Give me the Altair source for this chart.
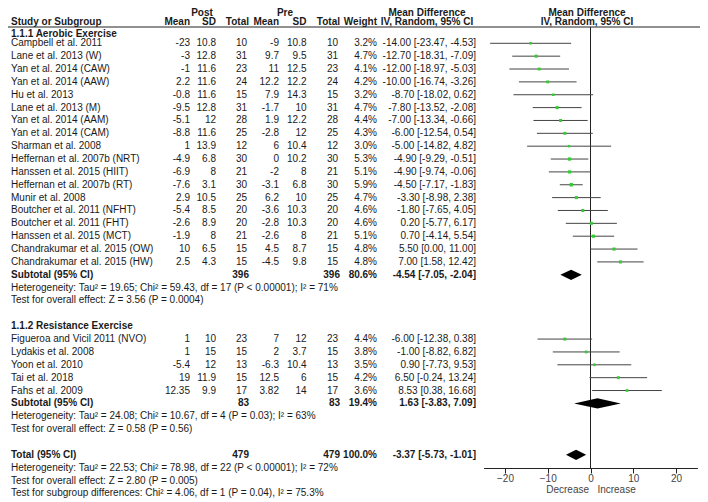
import altair as alt
import pandas as pd

# ---------------- data ----------------
studies = [
    "Campbell et al. 2011", "Lane et al. 2013 (W)", "Yan et al. 2014 (CAW)",
    "Yan et al. 2014 (AAW)", "Hu et al. 2013", "Lane et al. 2013 (M)",
    "Yan et al. 2014 (AAM)", "Yan et al. 2014 (CAM)", "Sharman et al. 2008",
    "Heffernan et al. 2007b (NRT)", "Hanssen et al. 2015 (HIIT)",
    "Heffernan et al. 2007b (RT)", "Munir et al. 2008",
    "Boutcher et al. 2011 (NFHT)", "Boutcher et al. 2011 (FHT)",
    "Hanssen et al. 2015 (MCT)", "Chandrakumar et al. 2015 (OW)",
    "Chandrakumar et al. 2015 (HW)",
    "Figueroa and Vicil 2011 (NVO)", "Lydakis et al. 2008", "Yoon et al. 2010",
    "Tai et al. 2018", "Fahs et al. 2009",
]
post_mean = [-23, -3, -1, 2.2, -0.8, -9.5, -5.1, -8.8, 1, -4.9, -6.9, -7.6, 2.9, -5.4, -2.6, -1.9, 10, 2.5,
             1, 1, -5.4, 19, 12.35]
post_sd = [10.8, 12.8, 11.6, 11.6, 11.6, 12.8, 12, 11.6, 13.9, 6.8, 8, 3.1, 10.5, 8.5, 8.9, 8, 6.5, 4.3,
           10, 15, 12, 11.9, 9.9]
post_n = [10, 31, 23, 24, 15, 31, 28, 25, 12, 30, 21, 30, 25, 20, 20, 21, 15, 15,
          23, 15, 13, 15, 17]
pre_mean = [-9, 9.7, 11, 12.2, 7.9, -1.7, 1.9, -2.8, 6, 0, -2, -3.1, 6.2, -3.6, -2.8, -2.6, 4.5, -4.5,
            7, 2, -6.3, 12.5, 3.82]
pre_sd = [10.8, 9.5, 12.5, 12.2, 14.3, 10, 12.2, 12, 10.4, 10.2, 8, 6.8, 10, 10.3, 10.3, 8, 8.7, 9.8,
          12, 3.7, 10.4, 6, 14]
pre_n = [10, 31, 23, 24, 15, 31, 28, 25, 12, 30, 21, 30, 25, 20, 20, 21, 15, 15,
         23, 15, 13, 15, 17]
weights = [3.2, 4.7, 4.1, 4.2, 3.2, 4.7, 4.4, 4.3, 3.0, 5.3, 5.1, 5.9, 4.7, 4.6, 4.6, 5.1, 4.8, 4.8,
           4.4, 3.8, 3.5, 4.2, 3.6]
md = [-14.00, -12.70, -12.00, -10.00, -8.70, -7.80, -7.00, -6.00, -5.00, -4.90, -4.90, -4.50, -3.30,
      -1.80, 0.20, 0.70, 5.50, 7.00,
      -6.00, -1.00, 0.90, 6.50, 8.53]
ci_lo = [-23.47, -18.31, -18.97, -16.74, -18.02, -13.52, -13.34, -12.54, -14.82, -9.29, -9.74, -7.17,
         -8.98, -7.65, -5.77, -4.14, 0.00, 1.58,
         -12.38, -8.82, -7.73, -0.24, 0.38]
ci_hi = [-4.53, -7.09, -5.03, -3.26, 0.62, -2.08, -0.66, 0.54, 4.82, -0.51, -0.06, -1.83, 2.38, 4.05,
         6.17, 5.54, 11.00, 12.42,
         0.38, 6.82, 9.53, 13.24, 16.68]
study_rows = list(range(18)) + [23, 24, 25, 26, 27]

summary_labels = ["Subtotal (95% CI)", "Subtotal (95% CI)", "Total (95% CI)"]
summary_rows = [18, 28, 32]
summary_post_n = [396, 83, 479]
summary_pre_n = [396, 83, 479]
summary_weight = [80.6, 19.4, 100.0]
summary_md = [-4.54, 1.63, -3.37]
summary_lo = [-7.05, -3.83, -5.73]
summary_hi = [-2.04, 7.09, -1.01]

group_labels = ["1.1.1 Aerobic Exercise", "1.1.2 Resistance Exercise"]
group_rows = [-0.75, 22]

note_texts = [
    "Heterogeneity: Tau² = 19.65; Chi² = 59.43, df = 17 (P < 0.00001); I² = 71%",
    "Test for overall effect: Z = 3.56 (P = 0.0004)",
    "Heterogeneity: Tau² = 24.08; Chi² = 10.67, df = 4 (P = 0.03); I² = 63%",
    "Test for overall effect: Z = 0.58 (P = 0.56)",
    "Heterogeneity: Tau² = 22.53; Chi² = 78.98, df = 22 (P < 0.00001); I² = 72%",
    "Test for overall effect: Z = 2.80 (P = 0.005)",
    "Test for subgroup differences: Chi² = 4.06, df = 1 (P = 0.04), I² = 75.3%",
]
note_rows = [19, 20, 29, 30, 33, 34, 35]

axis_ticks = [-20, -10, 0, 10, 20]
x_domain = [-25, 25]
axis_title = "Decrease\u00a0\u00a0\u00a0Increase"

# ---------------- layout constants ----------------
FONT = "Liberation Sans"
FS = 10
TXT = "#1a1a1a"
ROW_HEAD1 = -2.395
ROW_HEAD2 = -1.62
ROW_LINE = -1.267
ROW_AXIS = 33.03

yscale = alt.Scale(domain=[-2.745, 35.669], reverse=True, nice=False, zero=False)
xscale = alt.Scale(domain=x_domain, range=[475.6, 689.4], nice=False, zero=False)


def Y(field="row"):
    return alt.Y(f"{field}:Q", scale=yscale, axis=None)


def fmt(v):
    return f"{v:g}"


study_df = pd.DataFrame({
    "row": study_rows,
    "name": studies,
    "pm": [fmt(v) for v in post_mean],
    "ps": [fmt(v) for v in post_sd],
    "pn": [str(v) for v in post_n],
    "rm": [fmt(v) for v in pre_mean],
    "rs": [fmt(v) for v in pre_sd],
    "rn": [str(v) for v in pre_n],
    "w": [f"{v:.1f}%" for v in weights],
    "wv": weights,
    "ci": [f"{m:.2f} [{l:.2f}, {h:.2f}]" for m, l, h in zip(md, ci_lo, ci_hi)],
    "md": md, "lo": ci_lo, "hi": ci_hi,
})

sum_df = pd.DataFrame({
    "row": summary_rows,
    "name": summary_labels,
    "pn": [str(v) for v in summary_post_n],
    "rn": [str(v) for v in summary_pre_n],
    "w": [f"{v:.1f}%" for v in summary_weight],
    "ci": [f"{m:.2f} [{l:.2f}, {h:.2f}]" for m, l, h in zip(summary_md, summary_lo, summary_hi)],
})

group_df = pd.DataFrame({"row": group_rows, "name": group_labels})
note_df = pd.DataFrame({"row": note_rows, "name": note_texts})

DIAMOND_H = 0.4
dia_rows = []
for i, (r, m, l, h) in enumerate(zip(summary_rows, summary_md, summary_lo, summary_hi)):
    dia_rows.append({"id": i, "x": l, "y": r, "y2": r})
    dia_rows.append({"id": i, "x": m, "y": r - DIAMOND_H, "y2": r + DIAMOND_H})
    dia_rows.append({"id": i, "x": h, "y": r, "y2": r})
dia_df = pd.DataFrame(dia_rows)

layers = []


def text_layer(df, field, x, align, bold=False, color=TXT):
    return alt.Chart(df).mark_text(
        align=align, baseline="middle", font=FONT, fontSize=FS,
        fontWeight="bold" if bold else "normal", color=color,
    ).encode(x=alt.value(x), y=Y(), text=f"{field}:N")


# study columns
cols = [("name", 3, "left"), ("pm", 182, "right"), ("ps", 208, "right"), ("pn", 239, "right"),
        ("rm", 271, "right"), ("rs", 298.5, "right"), ("rn", 330, "right"), ("w", 369, "right"),
        ("ci", 468, "right")]
for f, x, a in cols:
    layers.append(text_layer(study_df, f, x, a))

# summary rows (bold)
for f, x, a in [("name", 3, "left"), ("pn", 241, "right"), ("rn", 332, "right"),
                ("w", 369, "right"), ("ci", 468, "right")]:
    layers.append(text_layer(sum_df, f, x, a, bold=True))

layers.append(text_layer(group_df, "name", 3, "left", bold=True))
layers.append(text_layer(note_df, "name", 3, "left"))

# headers
headers = [
    ("Post", ROW_HEAD1, 194, "center"), ("Pre", ROW_HEAD1, 277, "center"),
    ("Mean Difference", ROW_HEAD1, 419, "center"), ("Mean Difference", ROW_HEAD1, 579, "center"),
    ("Study or Subgroup", ROW_HEAD2, 3, "left"),
    ("Mean", ROW_HEAD2, 182, "right"), ("SD", ROW_HEAD2, 208, "right"), ("Total", ROW_HEAD2, 241, "right"),
    ("Mean", ROW_HEAD2, 271, "right"), ("SD", ROW_HEAD2, 298.5, "right"), ("Total", ROW_HEAD2, 332, "right"),
    ("Weight", ROW_HEAD2, 369, "right"),
    ("IV, Random, 95% CI", ROW_HEAD2, 419, "center"), ("IV, Random, 95% CI", ROW_HEAD2, 579, "center"),
]
for t, r, x, a in headers:
    layers.append(text_layer(pd.DataFrame({"row": [r], "name": [t]}), "name", x, a, bold=True))

# header underline
layers.append(alt.Chart(pd.DataFrame({"row": [ROW_LINE]})).mark_rule(color="#222", strokeWidth=1).encode(
    x=alt.value(0), x2=alt.value(692), y=Y()))

# zero line + forest axis
forest_x = alt.X("md:Q", scale=xscale, axis=alt.Axis(
    values=axis_ticks, offset=-34, grid=False, domainColor="#222", tickColor="#222",
    tickSize=5, labelColor="#444", labelFont=FONT, labelFontSize=10, labelPadding=0,
    title=axis_title, titleFont=FONT, titleFontSize=10, titleFontWeight="normal",
    titleColor="#444", titlePadding=1, labelFlush=False))

layers.append(alt.Chart(pd.DataFrame({"md": [0], "row": [ROW_LINE], "row2": [ROW_AXIS]})).mark_rule(
    color="#222", strokeWidth=1).encode(x=forest_x, y=Y(), y2="row2:Q"))

# CI lines
layers.append(alt.Chart(study_df).mark_rule(color="#444444", strokeWidth=1).encode(
    x=alt.X("lo:Q", scale=xscale), x2="hi:Q", y=Y()))

# squares
layers.append(alt.Chart(study_df).mark_square(color="#33cc33", opacity=1).encode(
    x=alt.X("md:Q", scale=xscale), y=Y(),
    size=alt.Size("wv:Q", scale=alt.Scale(domain=[3, 6], range=[6, 12]), legend=None)))

# diamonds
layers.append(alt.Chart(dia_df).mark_area(color="black", opacity=1).encode(
    x=alt.X("x:Q", scale=xscale), y=alt.Y("y:Q", scale=yscale, axis=None), y2="y2:Q", detail="id:N"))

chart = alt.layer(*layers).properties(
    width=692, height=494, padding=0, autosize=alt.AutoSizeParams(type="none"),
    background="white",
).configure_view(stroke=None)

chart.save("out.html", embed_options={"renderer": "svg", "actions": False})
